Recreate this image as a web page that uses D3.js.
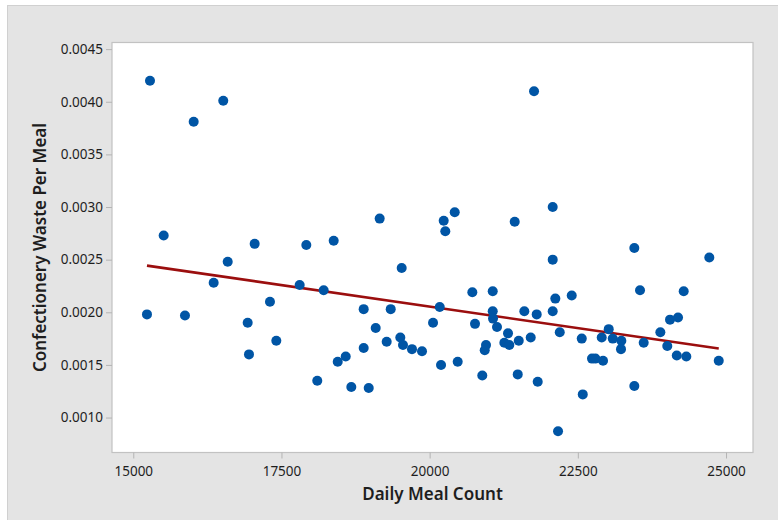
<!DOCTYPE html>
<html lang="en">

<head>
    <meta charset="UTF-8" />
    <title>Fitted Line Plot - Confectionery Waste Per Meal</title>
    <script src="https://d3js.org/d3.v7.min.js"></script>
    <style>
        body { margin: 0; background: #ffffff; }
        svg { display: block; }
    </style>
</head>

<body>
    <script>
        // daily meal count (x) and confectionery waste per meal (y)
        var mealCount = [
            15282, 16019, 16518, 21761, 15513, 17048, 16593, 16356, 17306, 15231,
            15872, 16930, 16952, 19157, 17919, 18381, 19528, 17807, 18212, 18887,
            19343, 20057, 17413, 19090, 19275, 19505, 19550, 19702, 19871, 18887,
            18584, 18449, 18104, 18678, 18972, 22076, 20423, 20237, 20264, 21435,
            22076, 20720, 21064, 22120, 22397, 20170, 21064, 21069, 21136, 21597,
            21806, 22076, 20765, 21322, 21260, 21344, 21503, 21705, 22195, 22566,
            20951, 20929, 20192, 20473, 20888, 21486, 21823, 22583, 22166, 22739,
            23453, 24718, 23549, 24286, 24055, 24190, 23892, 23021, 22903, 23089,
            23234, 23228, 23611, 24009, 24169, 24330, 24877, 22796, 22925, 23453
        ];
        var wastePerMeal = [
            0.00420, 0.00381, 0.00401, 0.00410, 0.00273, 0.00265, 0.00248, 0.00228, 0.00210, 0.00198,
            0.00197, 0.00190, 0.00160, 0.00289, 0.00264, 0.00268, 0.00242, 0.00226, 0.00221, 0.00203,
            0.00203, 0.00190, 0.00173, 0.00185, 0.00172, 0.00176, 0.00169, 0.00165, 0.00163, 0.00166,
            0.00158, 0.00153, 0.00135, 0.00129, 0.00128, 0.00300, 0.00295, 0.00287, 0.00277, 0.00286,
            0.00250, 0.00219, 0.00220, 0.00213, 0.00216, 0.00205, 0.00201, 0.00194, 0.00186, 0.00201,
            0.00198, 0.00201, 0.00189, 0.00180, 0.00171, 0.00169, 0.00173, 0.00176, 0.00181, 0.00175,
            0.00169, 0.00164, 0.00150, 0.00153, 0.00140, 0.00141, 0.00134, 0.00122, 0.00087, 0.00156,
            0.00261, 0.00252, 0.00221, 0.00220, 0.00193, 0.00195, 0.00181, 0.00184, 0.00176, 0.00175,
            0.00173, 0.00165, 0.00171, 0.00168, 0.00159, 0.00158, 0.00154, 0.00156, 0.00154, 0.00130
        ];
        // fitted line: intercept, slope
        var fitCoef = [0.003688, -8.17e-8];

        var xTicks = [15000, 17500, 20000, 22500, 25000];
        var yTicks = [0.0010, 0.0015, 0.0020, 0.0025, 0.0030, 0.0035, 0.0040, 0.0045];

        var w = 778;
        var h = 520;
        var plot = { left: 112, top: 42.5, right: 753, bottom: 452.5 };

        var dataset = mealCount.map(function (d, i) { return [d, wastePerMeal[i]]; });

        var xScale = d3.scaleLinear()
            .domain([14641, 25455])
            .range([plot.left, plot.right]);

        var yScale = d3.scaleLinear()
            .domain([0.000668, 0.004563])
            .range([plot.bottom, plot.top]);

        var svg = d3.select("body")
            .append("svg")
            .attr("width", w)
            .attr("height", h);

        // grey outer frame
        svg.append("rect")
            .attr("x", 7.5).attr("y", 5.5)
            .attr("width", w).attr("height", h)
            .attr("fill", "#e4e4e4")
            .attr("stroke", "#d0d0d0");

        // white plot area
        svg.append("rect")
            .attr("x", plot.left).attr("y", plot.top)
            .attr("width", plot.right - plot.left)
            .attr("height", plot.bottom - plot.top)
            .attr("fill", "#ffffff")
            .attr("stroke", "#c2c2c2")
            .attr("stroke-width", 1.2);

        var xAxis = d3.axisBottom(xScale).tickValues(xTicks).tickSize(6).tickSizeOuter(0)
            .tickFormat(d3.format("d"));
        var yAxis = d3.axisLeft(yScale).tickValues(yTicks).tickSize(6).tickSizeOuter(0)
            .tickFormat(d3.format(".4f"));

        var gx = svg.append("g").attr("class", "x axis")
            .attr("transform", "translate(0," + plot.bottom + ")")
            .call(xAxis);
        var gy = svg.append("g").attr("class", "y axis")
            .attr("transform", "translate(" + plot.left + ",0)")
            .call(yAxis);

        svg.selectAll(".axis .domain").remove();
        svg.selectAll(".axis .tick line").attr("stroke", "#b4b4b4");
        svg.selectAll(".axis text")
            .style("font-family", "'Noto Sans', 'Open Sans', sans-serif")
            .style("font-size", "13.5px")
            .style("fill", "#1e1e1e");
        gx.selectAll("text").attr("dy", "1.05em");
        gy.selectAll("text").attr("x", -9);

        // fitted regression line across the data range
        var xExt = d3.extent(mealCount);
        var fitData = xExt.map(function (x) { return [x, fitCoef[0] + fitCoef[1] * x]; });
        svg.append("path")
            .datum(fitData)
            .attr("d", d3.line()
                .x(function (d) { return xScale(d[0]); })
                .y(function (d) { return yScale(d[1]); }))
            .attr("fill", "none")
            .attr("stroke", "#9b0e0e")
            .attr("stroke-width", 2.6);

        svg.selectAll("circle")
            .data(dataset)
            .enter()
            .append("circle")
            .attr("cx", function (d) { return xScale(d[0]); })
            .attr("cy", function (d) { return yScale(d[1]); })
            .attr("r", 5)
            .attr("fill", "#0055a5");

        // axis titles
        svg.append("text")
            .attr("x", (plot.left + plot.right) / 2)
            .attr("y", 500)
            .attr("text-anchor", "middle")
            .style("font-family", "'Noto Sans', 'Open Sans', sans-serif")
            .style("font-size", "17px")
            .style("font-weight", 600)
            .style("fill", "#1e1e1e")
            .text("Daily Meal Count");

        svg.append("text")
            .attr("transform", "translate(46," + (plot.top + plot.bottom) / 2 + ") rotate(-90)")
            .attr("text-anchor", "middle")
            .style("font-family", "'Noto Sans', 'Open Sans', sans-serif")
            .style("font-size", "17px")
            .style("font-weight", 600)
            .style("fill", "#1e1e1e")
            .text("Confectionery Waste Per Meal");
    </script>
</body>

</html>
